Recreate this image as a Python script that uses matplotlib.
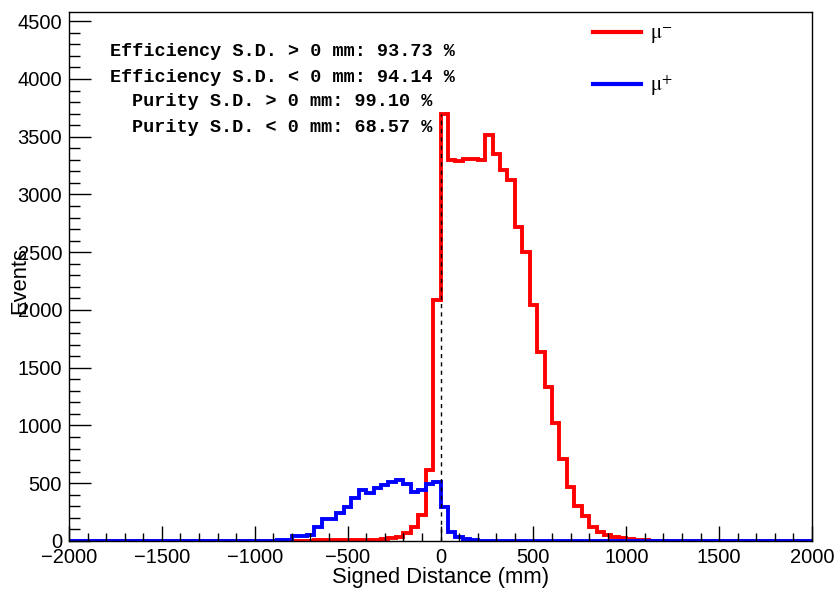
import numpy as np
import matplotlib
matplotlib.use("Agg")
import matplotlib.pyplot as plt
from matplotlib.lines import Line2D
from matplotlib.ticker import MultipleLocator

plt.rcParams['font.family'] = ['Liberation Sans', 'DejaVu Sans']
plt.rcParams['mathtext.fontset'] = 'stix'

# ---- data ----
bin_lo, bin_hi, bin_w = -2000, 2000, 40
# mu- (red), 100 bins of 40 mm from -2000 to 2000
mu_minus = [0] * 25 + [1, 1, 2, 2, 3,
            3, 4, 4, 5, 5, 6, 6, 7, 8, 9,
            10, 12, 17, 28, 37, 66, 118, 222, 618, 2085,
            3695, 3296, 3292, 3310, 3310, 3302, 3512, 3354, 3215, 3123,
            2719, 2503, 2042, 1638, 1335, 1024, 709, 470, 300, 215,
            120, 78, 48, 33, 23, 15, 9, 6, 4, 2,
            1, 1] + [0] * 18
# mu+ (blue)
mu_plus = [0] * 25 + [2, 3, 4, 6, 10,
           45, 45, 52, 124, 190, 190, 239, 297, 369, 441,
           418, 461, 484, 513, 528, 490, 427, 445, 495, 515,
           291, 75, 37, 15, 5, 3, 2, 1] + [0] * 42

stats_lines = ["Efficiency S.D. > 0 mm: 93.73 %",
               "Efficiency S.D. < 0 mm: 94.14 %",
               "Purity S.D. > 0 mm: 99.10 %",
               "Purity S.D. < 0 mm: 68.57 %"]
legend_labels = [r"$\mathrm{\mu}^{-}$", r"$\mathrm{\mu}^{+}$"]
x_label = "Signed Distance (mm)"
y_label = "Events"

edges = np.arange(bin_lo, bin_hi + bin_w, bin_w)

fig = plt.figure(figsize=(8.38, 5.90), dpi=100)
ax = fig.add_axes([69 / 838, 49 / 590, 743 / 838, 529 / 590])

ax.stairs(mu_minus, edges, color='#ff0000', lw=2.8, baseline=None)
ax.stairs(mu_plus, edges, color='#0000ff', lw=2.8, baseline=None)
ax.plot([0, 0], [0, max(mu_minus)], color='black', lw=1.0, ls=(0, (3, 3)), zorder=5)

ax.set_xlim(bin_lo, bin_hi)
ax.set_ylim(0, 4580)
ax.xaxis.set_major_locator(MultipleLocator(500))
ax.xaxis.set_minor_locator(MultipleLocator(100))
ax.yaxis.set_major_locator(MultipleLocator(500))
ax.yaxis.set_minor_locator(MultipleLocator(100))
ax.tick_params(which='both', direction='in', top=False, right=False, width=1.0,
               labelsize=14.5, pad=5)
ax.tick_params(axis='x', which='major', length=11)
ax.tick_params(axis='x', which='minor', length=5.5)
ax.tick_params(axis='y', which='major', length=16)
ax.tick_params(axis='y', which='minor', length=8)
ax.set_xticklabels([f"{int(v)}".replace('-', '\u2212') for v in ax.get_xticks()])
for s in ax.spines.values():
    s.set_linewidth(1.0)

ax.set_xlabel(x_label, fontsize=15.8)
ax.xaxis.set_label_coords(0.5, (541 - 578) / 529)
ax.xaxis.label.set_va('center')
ax.set_ylabel(y_label, fontsize=15.8)
ax.yaxis.set_label_coords((20 - 69) / 743, (541 - 280) / 529)
ax.yaxis.label.set_va('center')

for k, t in enumerate(stats_lines):
    fig.text(282 / 838, 1 - [51, 77, 102, 127][k] / 590, t, ha='center', va='center',
             family='Liberation Mono', weight='bold', fontsize=13.3)

handles = [Line2D([], [], color='#ff0000', lw=3.0), Line2D([], [], color='#0000ff', lw=3.0)]
ax.legend(handles, legend_labels, loc='center left', bbox_to_anchor=(593 / 838, 1 - 61 / 590),
          bbox_transform=fig.transFigure, frameon=False, fontsize=15,
          handlelength=2.3, handletextpad=0.45, labelspacing=1.3, borderpad=0, borderaxespad=0)

fig.savefig("out.png", dpi=100)
